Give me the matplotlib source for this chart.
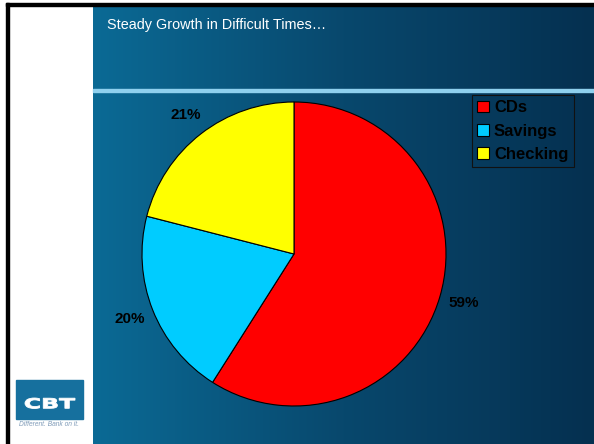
import matplotlib
matplotlib.use('Agg')
import matplotlib.pyplot as plt
import numpy as np
from matplotlib.colors import LinearSegmentedColormap
from matplotlib.patches import Rectangle, Patch, PathPatch
from matplotlib.textpath import TextPath
from matplotlib.font_manager import FontProperties
from matplotlib.transforms import Affine2D

plt.rcParams['font.family'] = ['Liberation Sans', 'DejaVu Sans']

title = 'Steady Growth in Difficult Times…'
categories = ['CDs', 'Savings', 'Checking']
values = [59, 20, 21]
colors = ['#ff0000', '#00ccff', '#ffff00']

W, H = 594, 444
fig = plt.figure(figsize=(W / 100, H / 100), dpi=100)

# slide background (pixel coordinates)
bg = fig.add_axes([0, 0, 1, 1])
bg.set_xlim(0, W)
bg.set_ylim(H, 0)
bg.axis('off')
bg.add_patch(Rectangle((0, 0), W, H, color='white', zorder=0))
grad = np.linspace(0, 1, 256).reshape(1, -1)
cmap = LinearSegmentedColormap.from_list('g', ['#0b6a95', '#08486d', '#053050'])
bg.imshow(grad, extent=(93, W, H, 6), cmap=cmap, aspect='auto', zorder=1)
bg.add_patch(Rectangle((6, 3), W - 6, 3, color='black', zorder=3))
bg.add_patch(Rectangle((6, 3), 3, H - 3, color='black', zorder=3))
bg.add_patch(Rectangle((93, 89), W - 93, 3, color='#8fd0ee', zorder=3))
bg.text(107, 25, title, color='white', fontsize=10.4, va='center', ha='left', zorder=4)

# logo
bg.add_patch(Rectangle((16, 380), 67, 39, color='#16709e', zorder=3))
tp = TextPath((0, 0), 'CBT', size=10, prop=FontProperties(family='DejaVu Sans', weight='bold'))
ext = tp.get_extents()
sx = 50 / ext.width
sy = 10.5 / ext.height
tr = Affine2D().translate(-ext.x0, -ext.y0).scale(sx, -sy).translate(25, 408.5)
bg.add_patch(PathPatch(tr.transform_path(tp), facecolor='white', edgecolor='white',
                       linewidth=0.6, zorder=4))
bg.text(49, 424.5, 'Different. Bank on it.', color='#7f9bb8', fontsize=4.8,
        style='italic', ha='center', va='center', zorder=4)
bg.set_xlim(0, W)
bg.set_ylim(H, 0)

# pie
cx, cy, r = 294, 254, 152
ax = fig.add_axes([(cx - r) / W, (H - cy - r) / H, 2 * r / W, 2 * r / H])
ax.patch.set_alpha(0)
ax.pie(values, colors=colors, startangle=90, counterclock=False,
       wedgeprops=dict(edgecolor='black', linewidth=0.8),
       autopct=lambda p: f'{p:.0f}%', pctdistance=1.16,
       textprops=dict(fontsize=11, fontweight='bold', color='black'))
ax.set_aspect('equal')
ax.set_xlim(-1, 1)
ax.set_ylim(-1, 1)

handles = [Patch(facecolor=c, edgecolor='black', linewidth=0.8) for c in colors]
leg = fig.legend(handles, categories, loc='upper left',
                 bbox_to_anchor=(472 / W, 1 - 95 / H),
                 frameon=True, fancybox=False, framealpha=1,
                 prop=dict(size=12, weight='bold'),
                 handlelength=0.7, handleheight=0.7, handletextpad=0.3,
                 labelspacing=0.5, borderpad=0.32, borderaxespad=0)
leg.get_frame().set_facecolor('none')
leg.get_frame().set_edgecolor('#111111')
leg.get_frame().set_linewidth(0.8)

fig.savefig('out.png', dpi=100)
